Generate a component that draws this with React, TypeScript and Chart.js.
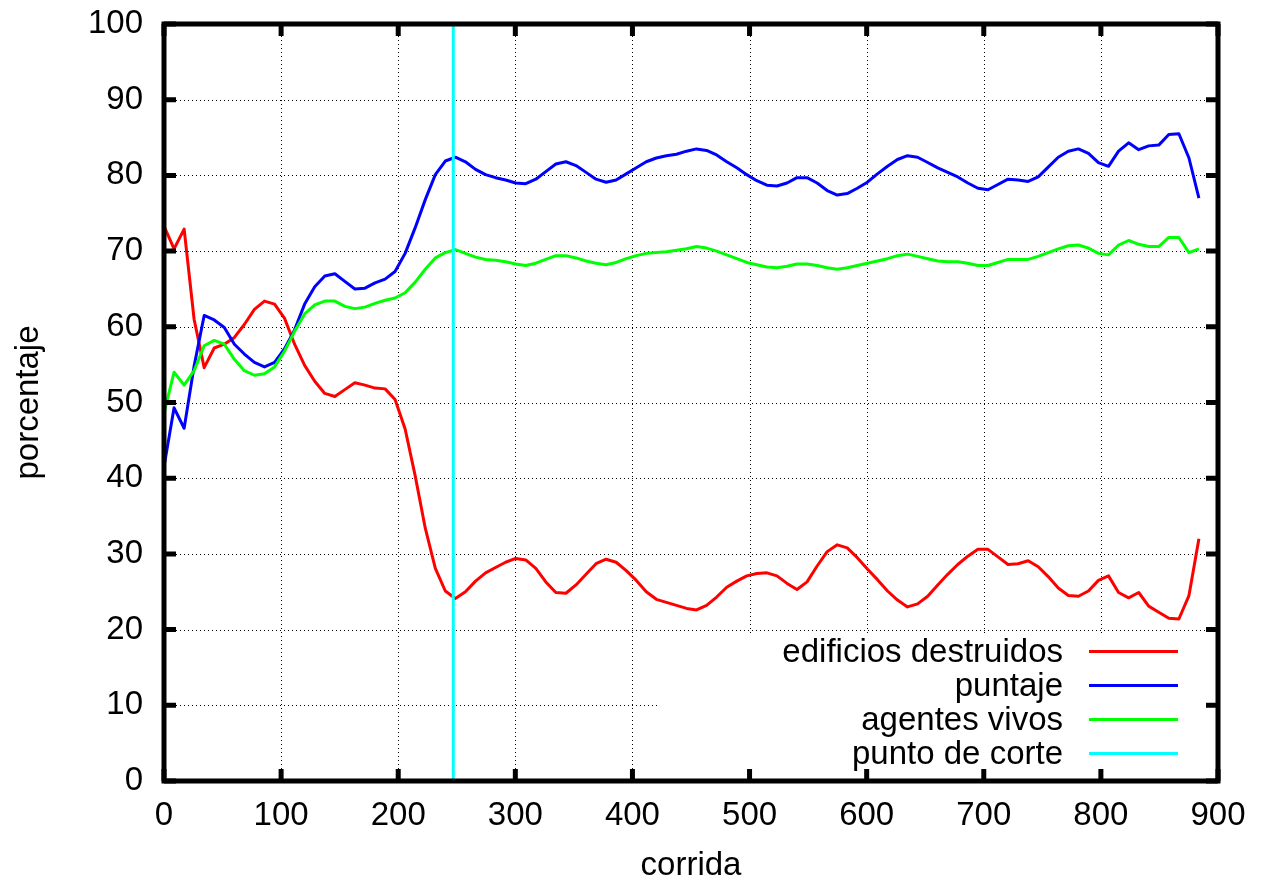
import React, { useEffect, useRef } from "react";
import { Chart, registerables } from "chart.js";

Chart.register(...registerables);

// x values (corrida)
const runs = [
  0, 8.6, 17.2, 25.7, 34.3, 42.9, 51.5, 60.1, 68.6, 77.2,
  85.8, 94.4, 103.0, 111.5, 120.1, 128.7, 137.3, 145.9, 154.4, 163.0,
  171.6, 180.2, 188.8, 197.3, 205.9, 214.5, 223.1, 231.7, 240.2, 248.8,
  257.4, 266.0, 274.6, 283.1, 291.7, 300.3, 308.9, 317.5, 326.0, 334.6,
  343.2, 351.8, 360.4, 368.9, 377.5, 386.1, 394.7, 403.3, 411.8, 420.4,
  429.0, 437.6, 446.2, 454.7, 463.3, 471.9, 480.5, 489.1, 497.6, 506.2,
  514.8, 523.4, 532.0, 540.5, 549.1, 557.7, 566.3, 574.9, 583.4, 592.0,
  600.6, 609.2, 617.8, 626.3, 634.9, 643.5, 652.1, 660.7, 669.2, 677.8,
  686.4, 695.0, 703.6, 712.1, 720.7, 729.3, 737.9, 746.5, 755.0, 763.6,
  772.2, 780.8, 789.4, 797.9, 806.5, 815.1, 823.7, 832.3, 840.8, 849.4,
  858.0, 866.6, 875.2, 883.7,
];

const edificiosDestruidos = [
  73.3, 70.3, 72.9, 61.0, 54.6, 57.2, 57.7, 58.6, 60.3, 62.3,
  63.4, 63.0, 61.1, 57.7, 54.9, 52.8, 51.2, 50.8, 51.7, 52.6,
  52.3, 51.9, 51.8, 50.4, 46.5, 40.3, 33.4, 28.1, 25.1, 24.1,
  25.0, 26.4, 27.5, 28.2, 28.9, 29.4, 29.2, 28.1, 26.3, 24.9,
  24.8, 25.9, 27.3, 28.7, 29.3, 28.9, 27.8, 26.5, 25.0, 24.0,
  23.6, 23.2, 22.8, 22.6, 23.2, 24.3, 25.6, 26.4, 27.1, 27.4,
  27.5, 27.1, 26.1, 25.3, 26.3, 28.4, 30.3, 31.2, 30.8, 29.5,
  28.0, 26.6, 25.1, 23.9, 23.0, 23.4, 24.4, 25.9, 27.3, 28.6,
  29.7, 30.6, 30.6, 29.6, 28.6, 28.7, 29.1, 28.3, 27.0, 25.5,
  24.5, 24.4, 25.1, 26.5, 27.1, 24.9, 24.2, 24.9, 23.1, 22.3,
  21.5, 21.4, 24.5, 32.0,
];

const puntaje = [
  41.5, 49.3, 46.6, 54.8, 61.5, 60.9, 59.9, 57.7, 56.4, 55.3,
  54.7, 55.3, 57.1, 59.6, 63.0, 65.3, 66.7, 67.0, 66.0, 65.0,
  65.1, 65.8, 66.3, 67.3, 69.7, 73.1, 76.8, 80.1, 81.9, 82.4,
  81.8, 80.8, 80.1, 79.7, 79.4, 79.0, 78.9, 79.5, 80.5, 81.5,
  81.8, 81.3, 80.4, 79.5, 79.1, 79.4, 80.2, 81.0, 81.8, 82.3,
  82.6, 82.8, 83.2, 83.5, 83.3, 82.7, 81.8, 81.0, 80.1, 79.3,
  78.7, 78.6, 79.0, 79.7, 79.7, 79.0, 78.0, 77.4, 77.6, 78.3,
  79.1, 80.2, 81.2, 82.1, 82.6, 82.4, 81.7, 81.0, 80.4, 79.8,
  79.0, 78.3, 78.1, 78.8, 79.5, 79.4, 79.2, 79.8, 81.1, 82.4,
  83.2, 83.5, 82.9, 81.7, 81.2, 83.2, 84.3, 83.4, 83.9, 84.0,
  85.4, 85.5, 82.3, 77.0,
];

const agentesVivos = [
  48.6, 54.0, 52.3, 54.2, 57.5, 58.2, 57.7, 55.7, 54.2, 53.6,
  53.8, 54.7, 56.8, 59.4, 61.7, 62.9, 63.4, 63.4, 62.7, 62.4,
  62.6, 63.1, 63.5, 63.8, 64.5, 65.9, 67.6, 69.1, 69.8, 70.2,
  69.7, 69.2, 68.9, 68.8, 68.6, 68.3, 68.1, 68.4, 68.9, 69.4,
  69.4, 69.1, 68.7, 68.4, 68.2, 68.5, 69.0, 69.4, 69.7, 69.8,
  69.9, 70.1, 70.3, 70.6, 70.4, 70.0, 69.5, 69.0, 68.5, 68.2,
  67.9, 67.8, 68.0, 68.3, 68.3, 68.1, 67.8, 67.6, 67.8, 68.1,
  68.4, 68.7, 69.0, 69.4, 69.6, 69.3, 69.0, 68.7, 68.6, 68.6,
  68.4, 68.1, 68.1, 68.5, 68.9, 68.9, 68.9, 69.3, 69.8, 70.3,
  70.7, 70.8, 70.4, 69.7, 69.5, 70.8, 71.4, 70.9, 70.6, 70.6,
  71.8, 71.8, 69.8, 70.3,
];

const puntoDeCorte = 247;
const corteSpan = [0, 100];

const seriesLabels = ["edificios destruidos", "puntaje", "agentes vivos", "punto de corte"];
const seriesColors = ["#ff0000", "#0000ff", "#00ff00", "#00ffff"];

const FONT = '"Liberation Sans", Arial, Helvetica, sans-serif';

const gnuplotStyle = {
  id: "gnuplotStyle",
  beforeDatasetsDraw(chart: any) {
    const { ctx, chartArea: a, scales } = chart;
    const x = scales.x;
    const y = scales.y;
    const keyLeft = 657;
    const keyTop = 633;
    ctx.save();
    ctx.beginPath();
    ctx.rect(a.left, a.top, a.right - a.left, a.bottom - a.top);
    ctx.clip();
    ctx.strokeStyle = "#000";
    ctx.lineWidth = 1;
    ctx.setLineDash([1, 3]);
    x.ticks.forEach((t: any) => {
      const px = Math.round(x.getPixelForValue(t.value)) + 0.5;
      const end = px > keyLeft ? keyTop : a.bottom;
      ctx.beginPath();
      ctx.moveTo(px, a.top);
      ctx.lineTo(px, end);
      ctx.stroke();
    });
    y.ticks.forEach((t: any) => {
      const py = Math.round(y.getPixelForValue(t.value)) + 0.5;
      const end = py > keyTop ? keyLeft : a.right;
      ctx.beginPath();
      ctx.moveTo(a.left, py);
      ctx.lineTo(end, py);
      ctx.stroke();
    });
    ctx.restore();
  },
  afterDatasetsDraw(chart: any) {
    const { ctx, chartArea: a, scales } = chart;
    const x = scales.x;
    const y = scales.y;
    ctx.save();
    ctx.setLineDash([]);
    ctx.strokeStyle = "#000";
    ctx.lineWidth = 5;
    ctx.strokeRect(a.left, a.top, a.right - a.left, a.bottom - a.top);
    const tl = 12;
    ctx.beginPath();
    x.ticks.forEach((t: any) => {
      const px = x.getPixelForValue(t.value);
      ctx.moveTo(px, a.bottom);
      ctx.lineTo(px, a.bottom - tl);
      ctx.moveTo(px, a.top);
      ctx.lineTo(px, a.top + tl);
    });
    y.ticks.forEach((t: any) => {
      const py = y.getPixelForValue(t.value);
      ctx.moveTo(a.left, py);
      ctx.lineTo(a.left + tl, py);
      ctx.moveTo(a.right, py);
      ctx.lineTo(a.right - tl, py);
    });
    ctx.stroke();

    // key
    const textRight = 1063;
    const lineStart = 1089;
    const lineEnd = 1178;
    const firstRow = 651.5;
    const rowStep = 34;
    ctx.font = `33px ${FONT}`;
    ctx.textAlign = "right";
    ctx.textBaseline = "middle";
    chart.data.datasets.forEach((ds: any, i: number) => {
      const ry = firstRow + i * rowStep;
      ctx.fillStyle = "#000";
      ctx.fillText(ds.label, textRight, ry + 1);
      ctx.strokeStyle = ds.borderColor;
      ctx.lineWidth = 3;
      ctx.beginPath();
      ctx.moveTo(lineStart, ry);
      ctx.lineTo(lineEnd, ry);
      ctx.stroke();
    });
    ctx.restore();
  },
};

export default function App() {
  const canvasRef = useRef<HTMLCanvasElement | null>(null);

  useEffect(() => {
    document.body.style.margin = "0";
    const canvas = canvasRef.current;
    if (!canvas) return;

    const mk = (vals: number[]) => runs.map((r, i) => ({ x: r, y: vals[i] }));
    const base = {
      borderWidth: 3,
      pointRadius: 0,
      pointHoverRadius: 0,
      fill: false,
      tension: 0,
      borderJoinStyle: "round" as const,
    };

    const chart = new Chart(canvas, {
      type: "line",
      data: {
        datasets: [
          { ...base, label: seriesLabels[0], data: mk(edificiosDestruidos), borderColor: seriesColors[0], backgroundColor: seriesColors[0], order: 4 },
          { ...base, label: seriesLabels[1], data: mk(puntaje), borderColor: seriesColors[1], backgroundColor: seriesColors[1], order: 3 },
          { ...base, label: seriesLabels[2], data: mk(agentesVivos), borderColor: seriesColors[2], backgroundColor: seriesColors[2], order: 2 },
          {
            ...base,
            label: seriesLabels[3],
            data: corteSpan.map((v) => ({ x: puntoDeCorte, y: v })),
            borderColor: seriesColors[3],
            backgroundColor: seriesColors[3],
            order: 1,
          },
        ],
      },
      options: {
        animation: false,
        responsive: false,
        devicePixelRatio: 1,
        events: [],
        layout: { padding: { left: 0, top: 24, right: 48, bottom: 0 } },
        plugins: {
          legend: { display: false },
          tooltip: { enabled: false },
          title: { display: false },
        },
        scales: {
          x: {
            type: "linear",
            min: 0,
            max: 900,
            grid: { display: false, drawTicks: false },
            border: { display: false },
            ticks: {
              stepSize: 100,
              padding: 15,
              color: "#000",
              maxRotation: 0,
              autoSkip: false,
              font: { family: FONT, size: 33 },
            },
            title: {
              display: true,
              text: "corrida",
              color: "#000",
              font: { family: FONT, size: 33, lineHeight: 1 },
              padding: { top: 0, bottom: 0 },
            },
            afterFit: (s: any) => {
              s.height = 101;
              s.paddingLeft = 0;
              s.paddingRight = 0;
            },
          },
          y: {
            type: "linear",
            min: 0,
            max: 100,
            grid: { display: false, drawTicks: false },
            border: { display: false },
            ticks: {
              stepSize: 10,
              padding: 21,
              color: "#000",
              autoSkip: false,
              font: { family: FONT, size: 33 },
            },
            title: {
              display: true,
              text: "porcentaje",
              color: "#000",
              font: { family: FONT, size: 33, lineHeight: 1 },
              padding: { top: 12.5, bottom: 0 },
            },
            afterFit: (s: any) => {
              s.width = 164;
              s.paddingTop = 0;
              s.paddingBottom = 0;
            },
          },
        },
      },
      plugins: [gnuplotStyle],
    });

    return () => chart.destroy();
  }, []);

  return (
    <div style={{ width: 1266, height: 882, background: "#fff" }}>
      <canvas ref={canvasRef} width={1266} height={882} style={{ display: "block", width: 1266, height: 882 }} />
    </div>
  );
}
